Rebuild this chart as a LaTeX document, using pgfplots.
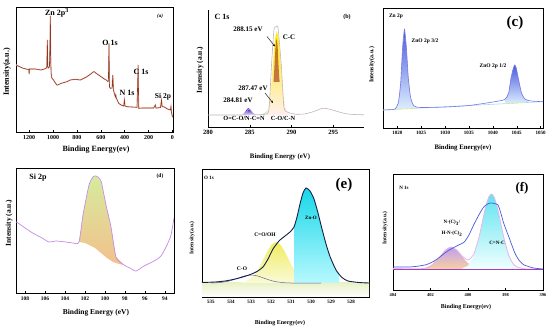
\documentclass[border=0pt]{standalone}
\usepackage{pgfplots}
\pgfplotsset{compat=1.18}
\usepackage{fontspec}
\setmainfont{Liberation Serif}
\usetikzlibrary{arrows.meta}
\definecolor{brA}{HTML}{8B3A1E}
\definecolor{pkA}{HTML}{F6CFCF}
\definecolor{grB}{HTML}{C4B4B4}
\definecolor{lnC}{HTML}{7878E0}
\definecolor{blC}{HTML}{4A5AE0}
\definecolor{blC2}{HTML}{DCEEFF}
\definecolor{bsC}{HTML}{A8D8F0}
\definecolor{lnD}{HTML}{C58BE8}
\definecolor{fD1}{HTML}{D6EB9C}
\definecolor{fD2}{HTML}{F3C08C}
\definecolor{lnE}{HTML}{15204A}
\definecolor{cyE}{HTML}{18D8E8}
\definecolor{cyE2}{HTML}{B8F8FF}
\definecolor{yeE}{HTML}{F0EC60}
\definecolor{yeE2}{HTML}{FAFAD8}
\definecolor{bgE}{HTML}{EAF2C8}
\definecolor{lnF}{HTML}{4A5AD8}
\definecolor{pkF}{HTML}{E8B4E8}
\definecolor{mgF}{HTML}{A040C0}
\definecolor{cyF}{HTML}{60E4F0}
\definecolor{puF}{HTML}{C0A0F0}
\definecolor{orF}{HTML}{F8D0A0}
\newcommand{\fs}[1]{\fontsize{#1}{#1}\selectfont\bfseries}
\pgfplotsset{
  panel/.style={scale only axis, anchor=south west, ytick=\empty, tick align=inside,
    major tick length=2pt, xtick pos=left, axis line style={line width=0.6pt, black},
    /pgf/number format/assume math mode=true, /pgf/number format/1000 sep={},
    ymin=0, every tick/.style={black, line width=0.4pt}},
}
\begin{document}
\begin{tikzpicture}
\path[use as bounding box] (0pt,0pt) rectangle (550pt,327pt);
% ---------------- (a)
\begin{axis}[panel, at={(16pt,195pt)}, width=157pt, height=125pt, xmin=-5, xmax=1310,
  x dir=reverse, ymax=125, xtick={0,200,...,1200}, tick label style={font=\fs{6}}]
\pgfplotstableread{
x y
1310 67
1280 65.3
1250 63.7
1215 62.7
1203 62.5
1200 58
1197 63
1150 63
1100 62
1060 63.5
1052 65
1049 80
1047 92
1045 66
1040 64
1030 65
1025 90
1022 116
1019 70
1015 58
1010 54
996 52
980 49
967 47
960 47
935 48.5
912 49.3
880 50.5
856 52
814 52.7
772 52
745 53.5
716 55.3
690 57.5
660 60.3
650 60
646 59.3
630 58
618 57
600 55.5
590 54.7
570 53
554 52
540 50.5
536 51
531 88.7
527 45
520 43.7
505 44
499 57
494 42
485 38
478 35.3
474 37
470 34
450 28.7
430 27
408 26
402 32
397 26
380 25.3
340 25
296 24.7
287 67
282 23.7
250 24
200 24
157 24
143 27
137 24
128 24
100 24.5
91 32
86 25.3
73 25.3
40 23
17 22
12 25.3
8 20
0 15.3
-5 15
}\surveytab
\addplot[draw=pkA, line width=1.3pt] table {\surveytab};
\addplot[draw=brA, line width=0.6pt] table {\surveytab};
\end{axis}
% ---------------- (b)
\begin{axis}[panel, at={(208pt,200pt)}, width=156pt, height=117pt, xmin=280, xmax=298.7,
  ymax=117, xtick={280,285,290,295}, tick label style={font=\fs{6.5}},
  axis x line*=bottom, axis y line*=left]
\addplot[draw=none, top color=blue!60!violet, bottom color=blue!8] coordinates {(284.05,12) (284.25,13.3) (284.4,14.6) (284.55,16.4) (284.7,18) (284.85,18.7) (285,18) (285.15,16.4) (285.3,14.6) (285.45,13.3) (285.65,12)} -- cycle;
\addplot[draw=none, top color=green!75!black!80, bottom color=green!12] coordinates {(286.2,12) (286.6,13.1) (286.9,14.6) (287.2,16.9) (287.5,19) (287.8,20) (288.1,19) (288.4,16.9) (288.7,14.6) (289.0,13.1) (289.4,12)} -- cycle;
\addplot[draw=none, top color=yellow!85!orange, middle color=red!75, bottom color=red!6] coordinates {(286.75,12) (286.75,12.5) (287.05,15.2) (287.25,20.7) (287.45,31.7) (287.65,49.2) (287.85,70.5) (288.05,88.7) (288.25,96) (288.45,88.7) (288.65,70.5) (288.85,49.2) (289.05,31.7) (289.25,20.7) (289.45,15.2) (289.75,12.5) (289.75,12)} -- cycle;
\addplot[draw=none, fill=red!55!black, fill opacity=0.5] coordinates {(287.85,45) (287.95,58) (288.05,74) (288.15,86) (288.25,88) (288.35,80) (288.45,62) (288.55,48) (288.6,45)} -- cycle;
\addplot[draw=grB, line width=0.6pt, smooth, tension=0.4] coordinates {(280,12) (284,12) (284.5,12.8) (284.8,17.5) (285.1,17) (285.5,13) (286,12.2) (286.8,12.8) (287.3,17) (287.6,60) (287.9,97) (288.15,100) (288.4,98.7) (288.8,60) (289.1,20) (289.5,15) (289.8,14) (290.5,12.8) (291.5,13) (292.5,15) (293.3,17.5) (293.8,18.7) (294.5,18) (295.5,15.5) (296.5,13.3) (297.5,12.5) (298.7,12.2)};
\end{axis}
% ---------------- (c)
\begin{axis}[panel, at={(383pt,199pt)}, width=160pt, height=120pt, xmin=1017, xmax=1050.5,
  ymax=120, xtick={1020,1025,...,1050}, tick label style={font=\fs{5}}]
\addplot[draw=none, top color=blC, bottom color=blC2] coordinates {(1019.5,18.6) (1019.5,19) (1020.2,25) (1020.7,45) (1021.1,80) (1021.5,98.7) (1021.9,80) (1022.3,50) (1022.8,30) (1023.5,22) (1024.2,20.5) (1024.2,19.8)} -- cycle;
\addplot[draw=none, top color=blC, bottom color=blC2] coordinates {(1042.5,24.3) (1042.5,28.5) (1043.3,35) (1043.8,50) (1044.3,60) (1044.6,63) (1044.9,60) (1045.4,48) (1046,35) (1046.7,29) (1047.5,27.5) (1047.5,25.5)} -- cycle;
\addplot[draw=bsC, line width=0.6pt] coordinates {(1017,18) (1050.5,26.3)};
\addplot[draw=yellow!60, line width=0.4pt] coordinates {(1019.5,18.9) (1024,20)};
\addplot[draw=yellow!60, line width=0.4pt] coordinates {(1042.5,24.6) (1046.5,25.6)};
\addplot[draw=lnC, line width=0.6pt, smooth, tension=0.4] coordinates {(1017,18) (1018.5,18.3) (1019.5,19) (1020.2,25) (1020.7,45) (1021.1,80) (1021.5,98.7) (1021.9,80) (1022.3,50) (1022.8,30) (1023.5,22) (1025,20.5) (1030,21) (1035,22.5) (1040,26) (1042.5,28.5) (1043.3,35) (1043.8,50) (1044.3,60) (1044.6,63) (1044.9,60) (1045.4,48) (1046,35) (1046.7,29) (1048,27) (1050.5,26.3)};
\end{axis}
% ---------------- (d)
\begin{axis}[panel, at={(16pt,34pt)}, width=158pt, height=125pt, xmin=93.1, xmax=108.9,
  x dir=reverse, ymax=125, xtick={94,96,...,108}, tick label style={font=\fs{5.5}}]
\addplot[draw=none, top color=fD1, bottom color=fD2] coordinates {(102.6,51) (102.2,78) (101.6,108) (101.2,116) (100.9,117) (100.4,112) (99.9,88) (99.4,66) (98.9,36) (98.1,28) (98.6,29) (99.2,31) (99.8,35) (100.4,40) (101,45) (102,50)} -- cycle;
\addplot[draw=lnD, line width=0.7pt, smooth, tension=0.4] coordinates {(108.9,71) (108.7,70) (107.4,61) (106.3,55) (105.6,51) (104.9,52) (103.9,51) (103.2,50) (102.6,51) (102.2,78) (101.6,108) (101.2,116) (100.9,117) (100.4,112) (99.9,88) (99.4,66) (98.9,36) (98.1,28) (97.5,25) (96.9,22) (96.1,27) (95.1,32) (94.4,37) (93.8,48) (93.4,58) (93.1,75)};
\end{axis}
% ---------------- (e)
\begin{axis}[panel, at={(202pt,30pt)}, width=167pt, height=128pt, xmin=527.1, xmax=535.45,
  x dir=reverse, ymax=128, xtick={528,529,...,535}, tick label style={font=\fs{5}}]
\addplot[draw=none, top color=bgE, bottom color=white] coordinates {(535.45,0) (535.45,14) (527.1,14) (527.1,0)} -- cycle;
\addplot[draw=none, top color=yeE, bottom color=yeE2] coordinates {(533.55,14) (533.25,15.8) (532.95,19.5) (532.75,24.2) (532.55,30.9) (532.35,38.9) (532.15,46.8) (531.95,52.8) (531.75,55) (531.55,52.8) (531.35,46.8) (531.15,38.9) (530.95,30.9) (530.75,24.2) (530.55,19.5) (530.25,15.8) (529.95,14)} -- cycle;
\addplot[draw=none, top color=cyE, bottom color=cyE2] coordinates {(530.85,14) (530.85,70) (530.7,80) (530.55,93) (530.4,104) (530.25,109) (530.05,106) (529.85,98) (529.65,84) (529.45,68) (529.25,53) (529.05,40.5) (528.75,27) (528.6,24) (528.6,14)} -- cycle;
\addplot[draw=gray!80!blue, line width=0.5pt, smooth, tension=0.4] coordinates {(535,14) (534.6,14.4) (534.2,15.5) (533.9,17.1) (533.6,19.2) (533.3,21.2) (533,22) (532.7,21.2) (532.4,19.2) (532.1,17.1) (531.8,15.5) (531.4,14.4) (531,14) (529.5,14)};
\addplot[draw=lnE, line width=0.9pt, smooth, tension=0.4] coordinates {(535.45,14.5) (534.8,15) (534.3,16) (533.9,17.5) (533.5,19.5) (533.1,22) (532.7,25.5) (532.4,30) (532.15,38) (531.9,48) (531.6,56) (531.3,61) (531.05,65) (530.85,70) (530.7,80) (530.55,93) (530.4,104) (530.25,109) (530.05,106) (529.85,98) (529.65,84) (529.45,68) (529.25,53) (529.05,40.5) (528.75,27) (528.45,19.5) (528.15,16) (527.6,14.5) (527.1,14)};
\end{axis}
% ---------------- (f)
\begin{axis}[panel, at={(393pt,37pt)}, width=150pt, height=116pt, xmin=396, xmax=404,
  x dir=reverse, ymax=116, xtick={396,398,400,402,404}, tick label style={font=\fs{4.5}}]
\addplot[draw=none, top color=puF, bottom color=orF] coordinates {(402.5,21) (402.5,21.3) (402.2,22.3) (401.9,25.2) (401.65,29.7) (401.4,35.6) (401.15,40.8) (400.9,43) (400.65,40.8) (400.4,35.6) (400.15,29.7) (399.9,25.2) (399.6,22.3) (399.3,21.3) (399.3,21)} -- cycle;
\addplot[draw=none, top color=cyF, bottom color=cyan!6] coordinates {(400.3,21) (400.3,21.6) (400.0,24.3) (399.7,33.3) (399.4,53.3) (399.1,79.7) (398.9,92.7) (398.75,96) (398.6,92.7) (398.4,79.7) (398.1,53.3) (397.8,33.3) (397.5,24.3) (397.2,21.6) (397.2,21)} -- cycle;
\addplot[draw=pkF, line width=0.8pt, smooth, tension=0.4] coordinates {(404,21.5) (402.5,21.3) (402,24) (401.5,33.1) (401.2,40) (400.9,43) (400.6,40) (400.3,33.7) (400.0,30.1) (399.7,35.3) (399.4,53.8) (399.1,79.7) (398.9,92.7) (398.75,96) (398.6,92.7) (398.4,79.7) (398.1,53.3) (397.8,33.3) (397.5,24.3) (397.0,21.2) (396,21)};
\addplot[draw=mgF, line width=0.6pt] coordinates {(404,20.7) (396,20.7)};
\addplot[draw=lnF, line width=0.7pt, smooth, tension=0.4] coordinates {(404,23) (403.5,23) (403.1,23) (402.6,24) (402.2,25.5) (401.8,29) (401.5,33) (401.2,37.5) (400.9,41) (400.55,44.5) (400.2,48) (399.95,55) (399.7,65) (399.45,74) (399.2,82) (399,85.5) (398.8,87) (398.6,86.5) (398.4,85) (398.25,77) (398.1,67) (397.8,52) (397.5,37) (397.25,29) (397.0,25) (396.5,22) (396,21)};
\end{axis}
% ---------------- text
\begin{scope}[x=1pt,y=-1pt,shift={(0pt,327pt)}]
% (a)
\node[font=\fs{8}, rotate=90] at (7,72) {Intensity(a.u.)};
\node[font=\fs{8}] at (96,150) {Binding Energy(ev)};
\node[font=\fs{8}] at (57,13) {Zn 2p\textsuperscript{3}};
\node[font=\fs{5}\itshape] at (160,16) {(a)};
\node[font=\fs{8}] at (110,43) {O 1s};
\node[font=\fs{8}] at (141,72) {C 1s};
\node[font=\fs{8}] at (127,93) {N 1s};
\node[font=\fs{7.5}] at (163,97) {Si 2p};
% (b)
\node[font=\fs{7.5}, rotate=90] at (200,70) {Intensity (a.u.)};
\node[font=\fs{6.8}] at (280,157) {Binding Energy (eV)};
\node[font=\fs{8}] at (222,17) {C 1s};
\node[font=\fs{6}] at (347,17) {(b)};
\node[font=\fs{7}] at (248,29) {288.15 eV};
\node[font=\fs{7}] at (289,37) {C-C};
\node[font=\fs{7}] at (253,88) {287.47 eV};
\node[font=\fs{7}] at (238,100) {284.81 eV};
\node[font=\fs{6.3}] at (244,118) {O=C-O/N-C=N};
\node[font=\fs{6.3}] at (283,118) {C-O/C-N};
\draw[-{Stealth[length=2.5pt,width=2pt]}, line width=0.4pt] (267,36.5) -- (275,46.5);
\draw[-{Stealth[length=2.5pt,width=2pt]}, line width=0.4pt] (265,93) -- (273,103);
% (c)
\node[font=\fs{6}, rotate=90] at (372,65) {Intensity(a.u.)};
\node[font=\fs{6.8}] at (463,148) {Binding Energy(ev)};
\node[font=\fs{5.5}] at (396,16) {Zn 2p};
\node[font=\fs{15}] at (515,23) {(c)};
\node[font=\fs{5.5}] at (425,41) {ZnO 2p 3/2};
\node[font=\fs{5.5}] at (493,66) {ZnO 2p 1/2};
% (d)
\node[font=\fs{7.5}, rotate=90] at (9,223) {Intensity (a.u.)};
\node[font=\fs{7.5}] at (96,313) {Binding Energy (eV)};
\node[font=\fs{8}] at (38,178) {Si 2p};
\node[font=\fs{5.5}] at (160,176) {(d)};
% (e)
\node[font=\fs{5.5}, rotate=90] at (192,238) {Intensity(a.u.)};
\node[font=\fs{6}] at (280,323) {Binding Energy(ev)};
\node[font=\fs{5}] at (209,178) {O 1s};
\node[font=\fs{15}] at (344,185) {(e)};
\node[font=\fs{5}] at (311,218) {Zn-O};
\node[font=\fs{5.5}] at (265,235) {C=O/OH};
\node[font=\fs{5.5}] at (242,269) {C-O};
% (f)
\node[font=\fs{5.5}, rotate=90] at (385,228) {Intensity(a.u.)};
\node[font=\fs{6}] at (466,307) {Binding Energy(ev)};
\node[font=\fs{5}] at (404,188) {N 1s};
\node[font=\fs{13}] at (522,188) {(f)};
\node[font=\fs{5}] at (452,223) {N-(C)\textsubscript{3}/};
\node[font=\fs{5}] at (452,234) {H-N-(C)\textsubscript{2}};
\node[font=\fs{5}] at (497,243) {C=N-C};
\end{scope}
\end{tikzpicture}
\end{document}
